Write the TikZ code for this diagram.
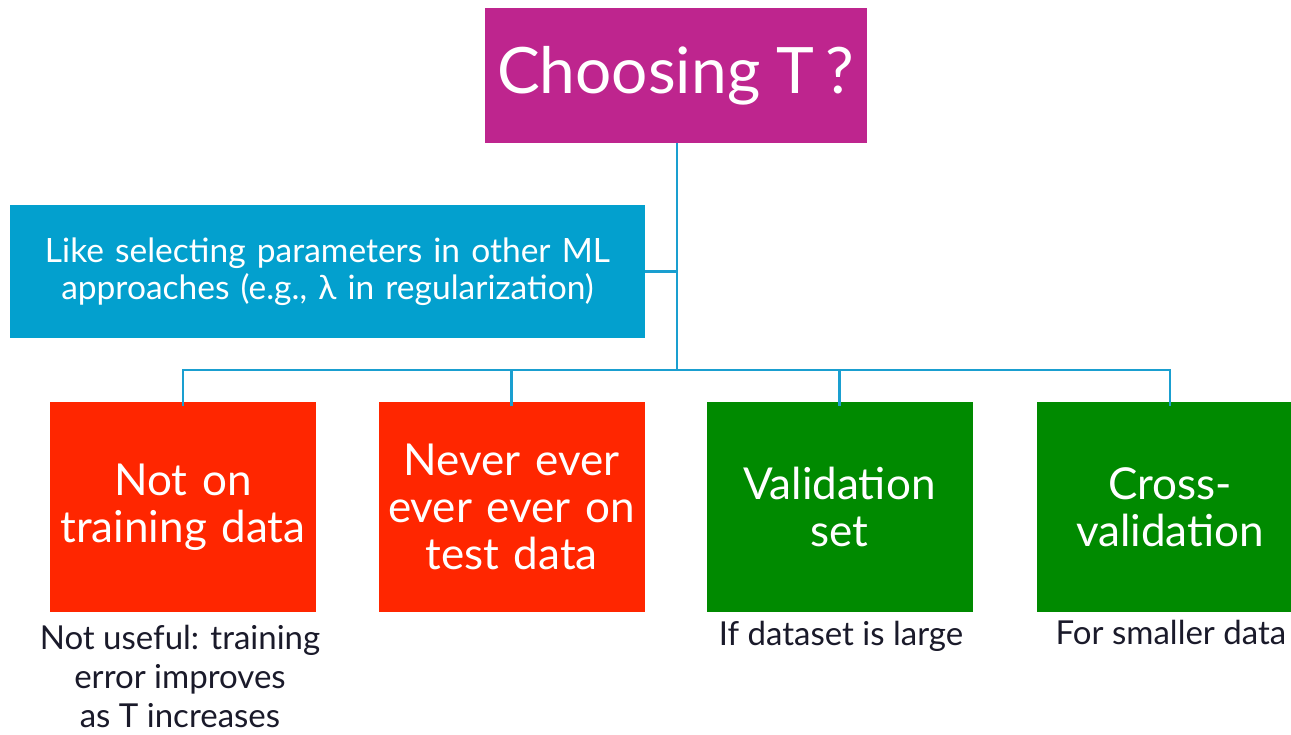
\documentclass[tikz,border=0pt]{standalone}
\usepackage{fontspec}
\setmainfont{Lato}
\definecolor{cmag}{HTML}{BE258E}
\definecolor{cblue}{HTML}{03A0CE}
\definecolor{cline}{HTML}{1A9FD0}
\definecolor{cred}{HTML}{FF2600}
\definecolor{cgreen}{HTML}{008A00}
\definecolor{ctext}{HTML}{1A1A2A}
\tikzset{
  box/.style={inner sep=0pt, text=white, align=center},
  leaf/.style={box, minimum width=266pt, minimum height=210pt, text width=264pt,
     font=\fontsize{44}{47}\selectfont},
  note/.style={inner sep=0pt, text=ctext, align=center, font=\fontsize{33}{39}\selectfont},
  conn/.style={draw=cline, line width=2.8pt}
}
\begin{document}
\begin{tikzpicture}[x=1pt,y=-1pt]
\useasboundingbox (0,0) rectangle (1291,735);
\node[box, fill=cmag, minimum width=382pt, minimum height=135pt,
  font=\fontsize{64}{70}\selectfont] (top) at (675.5,75.5) {Choosing T\,?};
\node[box, fill=cblue, minimum width=635pt, minimum height=133pt, text width=630pt,
  font=\fontsize{33.5}{37}\selectfont] (like) at (327.5,271.5)
  {Like selecting parameters in other ML\\approaches (e.g., λ in regularization)};
\node[leaf, fill=cred] (b1) at (183,507) {Not on\\training data};
\node[leaf, fill=cred] (b2) at (511.5,507) {Never ever\\ever ever on\\test data};
\node[leaf, fill=cgreen] (b3) at (839.5,507) {Validation\\set};
\node[leaf, fill=cgreen] (b4) at (1170,507) {Cross-\\validation};
\node[note] (n1) at (180,676) {Not useful: training\\error improves\\as T increases};
\node[note] (n3) at (841,636) {If dataset is large};
\node[note] (n4) at (1171,632) {For smaller data};
\coordinate (hub) at (677,370);
\draw[conn] (top.south -| hub) -- (hub);
\draw[conn] (like.east) -- (like.east -| hub);
\draw[conn, line cap=rect] (b1.north |- hub) -- (b4.north |- hub);
\foreach \b in {b1,b2,b3,b4} {
  \draw[conn] (\b.north |- hub) -- ([yshift=-4pt]\b.north);
}
\end{tikzpicture}
\end{document}
